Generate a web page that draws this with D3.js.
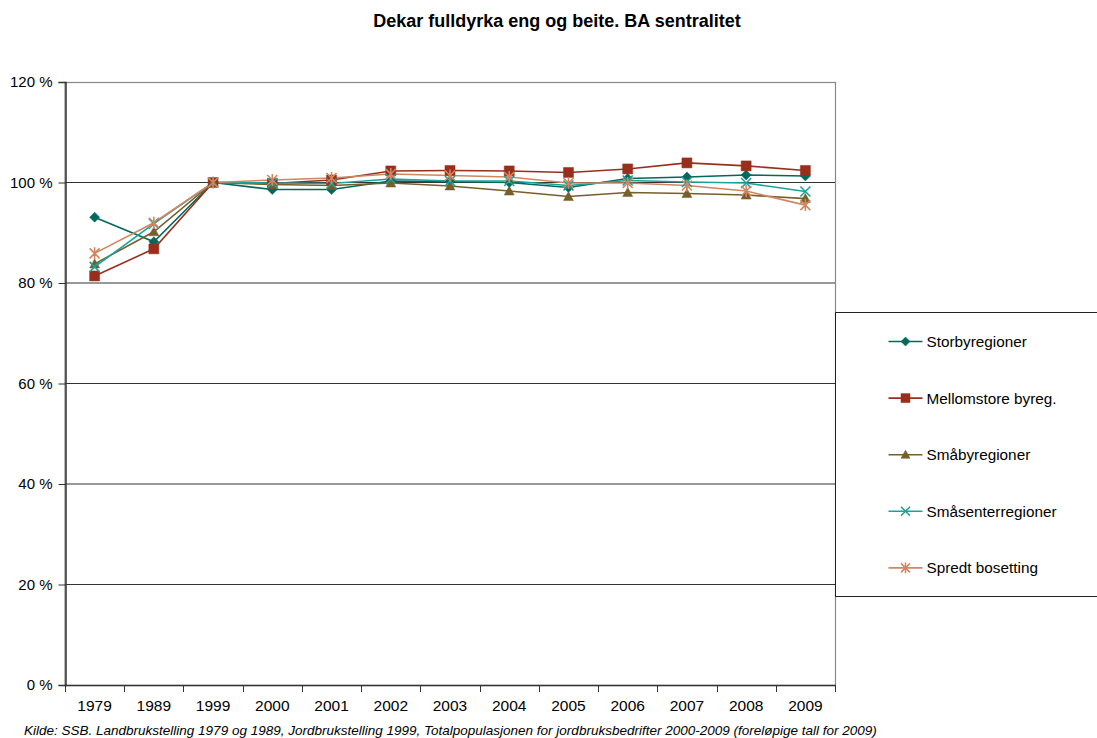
<!DOCTYPE html>
<html>
<head>
<meta charset="utf-8">
<script src="https://cdn.jsdelivr.net/npm/d3@7"></script>
<style>
  body { margin: 0; background: #fff; }
  text { font-family: "Liberation Sans", Arial, sans-serif; fill: #000; }
</style>
</head>
<body>
<div id="chart"></div>
<script>
var years = ["1979", "1989", "1999", "2000", "2001", "2002", "2003", "2004", "2005", "2006", "2007", "2008", "2009"];
var seriesNames = ["Storbyregioner", "Mellomstore byreg.", "Småbyregioner", "Småsenterregioner", "Spredt bosetting"];
var storby      = [93.1, 88.2, 100, 98.6, 98.6, 100.3, 100.2, 100.0, 99.0, 100.8, 101.1, 101.5, 101.3];
var mellomstore = [81.4, 86.8, 100, 99.8, 100.5, 102.3, 102.4, 102.3, 102.0, 102.7, 103.9, 103.3, 102.4];
var smaby       = [83.8, 90.2, 100, 99.6, 99.4, 99.9, 99.3, 98.3, 97.2, 98.0, 97.8, 97.5, 96.8];
var smasenter   = [83.2, 91.8, 100, 99.9, 99.8, 100.7, 100.3, 100.3, 99.4, 100.4, 100.1, 99.9, 98.2];
var spredt      = [85.9, 92.0, 100, 100.5, 100.9, 101.7, 101.4, 101.1, 99.9, 99.9, 99.4, 98.3, 95.5];
var yTicks = [0, 20, 40, 60, 80, 100, 120];
var title = "Dekar fulldyrka eng og beite. BA sentralitet";
var source = "Kilde: SSB. Landbrukstelling 1979 og 1989, Jordbrukstelling 1999, Totalpopulasjonen for jordbruksbedrifter 2000-2009 (foreløpige tall for 2009)";

var colors = ["#00695c", "#9a2e1d", "#775f2b", "#1aa39a", "#d08660"];
var markers = ["diamond", "square", "triangle", "x", "star"];
var allValues = [storby, mellomstore, smaby, smasenter, spredt];

var width = 1097, height = 738;
var margin = {top: 82, left: 65, right: 262, bottom: 53};
var plotW = width - margin.left - margin.right,
    plotH = height - margin.top - margin.bottom;

var svg = d3.select("#chart").append("svg")
    .attr("width", width)
    .attr("height", height);

svg.append("text")
    .attr("x", 557).attr("y", 27)
    .attr("text-anchor", "middle")
    .style("font-size", "18px").style("font-weight", "bold")
    .text(title);

var g = svg.append("g")
    .attr("transform", "translate(" + margin.left + "," + margin.top + ")");

var x = d3.scaleBand().domain(years).range([0, plotW]);
var y = d3.scaleLinear().domain([0, 120]).range([plotH, 0]);

// plot border
g.append("rect")
    .attr("x", 0).attr("y", 0.5)
    .attr("width", plotW + 0.5).attr("height", plotH)
    .style("fill", "none").style("stroke", "#888").style("stroke-width", 1.2);

// gridlines
g.selectAll(".grid")
    .data(yTicks.filter(function(d) { return d > 0 && d < 120; }))
    .enter().append("line")
    .attr("class", "grid")
    .attr("x1", 0).attr("x2", plotW)
    .attr("y1", function(d) { return y(d); })
    .attr("y2", function(d) { return y(d); })
    .style("stroke", "#333").style("stroke-width", 1);

// y axis
var yAxis = d3.axisLeft(y).tickValues(yTicks).tickSize(7).tickPadding(6)
    .tickFormat(function(d) { return d + " %"; });
var ya = g.append("g").attr("transform", "translate(0.5,0)").call(yAxis);
ya.select(".domain").style("stroke", "#333").style("stroke-width", 1.5);
ya.selectAll(".tick line").style("stroke", "#333");
ya.selectAll("text").style("font-size", "15px").style("font-family", "Liberation Sans, Arial, sans-serif");

// x axis with ticks at band boundaries
var xa = g.append("g").attr("transform", "translate(0," + plotH + ")");
xa.append("line").attr("x1", 0).attr("x2", plotW).attr("y1", 0.5).attr("y2", 0.5)
    .style("stroke", "#333").style("stroke-width", 1.5);
xa.selectAll(".xt")
    .data(years.concat(["end"]))
    .enter().append("line")
    .attr("x1", function(d, i) { return Math.round(i * x.step()) + 0.5; })
    .attr("x2", function(d, i) { return Math.round(i * x.step()) + 0.5; })
    .attr("y1", 0).attr("y2", 7)
    .style("stroke", "#333");
xa.selectAll(".xl")
    .data(years)
    .enter().append("text")
    .attr("x", function(d) { return x(d) + x.bandwidth() / 2; })
    .attr("y", 26)
    .attr("text-anchor", "middle")
    .style("font-size", "15.5px")
    .text(function(d) { return d; });

function symbolPath(type, s) {
  if (type == "diamond") return "M0," + (-s) + "L" + s + ",0L0," + s + "L" + (-s) + ",0Z";
  if (type == "square") return "M" + (-s) + "," + (-s) + "h" + (2 * s) + "v" + (2 * s) + "h" + (-2 * s) + "Z";
  if (type == "triangle") return "M0," + (-s) + "L" + s + "," + (s * 0.8) + "L" + (-s) + "," + (s * 0.8) + "Z";
  if (type == "x") return "M" + (-s) + "," + (-s) + "L" + s + "," + s + "M" + (-s) + "," + s + "L" + s + "," + (-s);
  return "M" + (-s) + "," + (-s) + "L" + s + "," + s + "M" + (-s) + "," + s + "L" + s + "," + (-s) + "M0," + (-s * 1.2) + "V" + (s * 1.2);
}
var markerSize = [5, 5, 5, 5, 5];

var line = d3.line()
    .x(function(d, i) { return x(years[i]) + x.bandwidth() / 2; })
    .y(function(d) { return y(d); });

allValues.forEach(function(vals, k) {
  g.append("path")
      .datum(vals)
      .attr("d", line)
      .style("fill", "none")
      .style("stroke", colors[k])
      .style("stroke-width", 1.6);
});
allValues.forEach(function(vals, k) {
  var filled = markers[k] != "x" && markers[k] != "star";
  g.selectAll(".m" + k)
      .data(vals)
      .enter().append("path")
      .attr("transform", function(d, i) {
        return "translate(" + (x(years[i]) + x.bandwidth() / 2) + "," + y(d) + ")";
      })
      .attr("d", symbolPath(markers[k], markerSize[k]))
      .style("fill", filled ? colors[k] : "none")
      .style("stroke", colors[k])
      .style("stroke-width", filled ? 0.5 : 1.6);
});

// legend
var lg = svg.append("g").attr("transform", "translate(835.5,312.5)");
lg.append("rect")
    .attr("width", 270).attr("height", 284)
    .style("fill", "#fff").style("stroke", "#222").style("stroke-width", 1);
seriesNames.forEach(function(name, k) {
  var ly = 29 + k * 56.6;
  var filled = markers[k] != "x" && markers[k] != "star";
  lg.append("line")
      .attr("x1", 53).attr("x2", 87).attr("y1", ly).attr("y2", ly)
      .style("stroke", colors[k]).style("stroke-width", 1.6);
  lg.append("path")
      .attr("transform", "translate(70," + ly + ")")
      .attr("d", symbolPath(markers[k], 4.5))
      .style("fill", filled ? colors[k] : "none")
      .style("stroke", colors[k])
      .style("stroke-width", filled ? 0.5 : 1.5);
  lg.append("text")
      .attr("x", 91).attr("y", ly + 5.5)
      .style("font-size", "15.3px")
      .text(name);
});

svg.append("text")
    .attr("x", 24).attr("y", 735)
    .style("font-size", "13.5px").style("font-style", "italic")
    .text(source);
</script>
</body>
</html>
